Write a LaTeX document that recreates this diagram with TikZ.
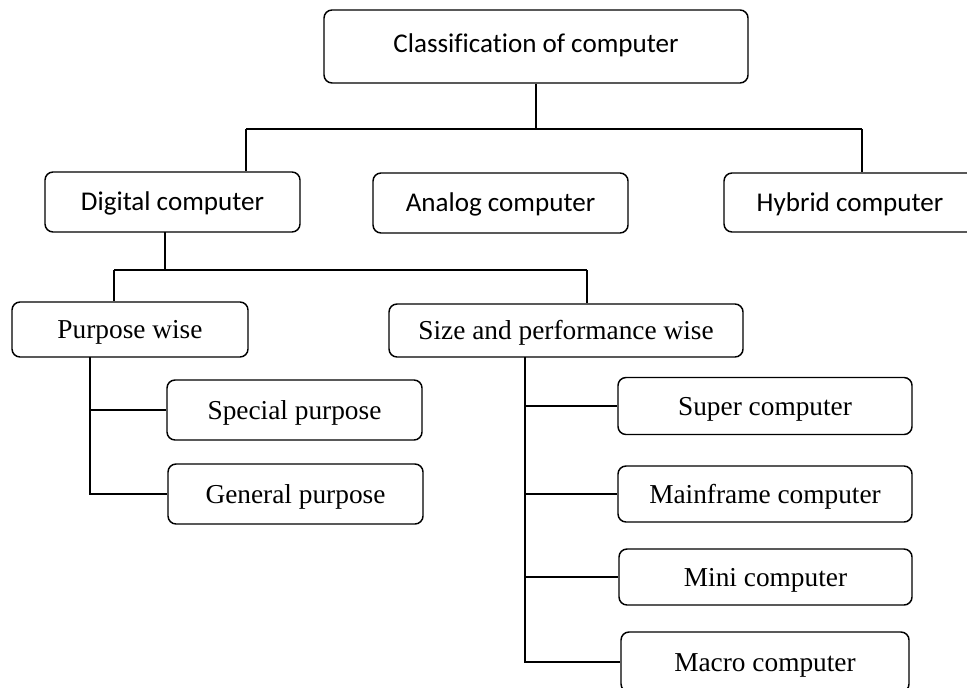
\documentclass[tikz,border=0pt]{standalone}
\usepackage{fontspec}
\newfontfamily\calfont[Ligatures=NoCommon]{Carlito}
\newfontfamily\timesfont{Liberation Serif}
\begin{document}
\begin{tikzpicture}[x=0.75pt,y=-0.75pt,
  box/.style={draw=black,line width=1.1pt,rounded corners=6pt,inner sep=0pt,anchor=center},
  sans/.style={box,font=\calfont\fontsize{20.3}{24}\selectfont,text height=13.5pt,text depth=0.5pt},
  serif/.style={box,font=\timesfont\fontsize{20.5}{24}\selectfont,text height=14pt,text depth=0pt},
  conn/.style={draw=black,line width=1.1pt}]
\useasboundingbox (0,0) rectangle (967,688);
% top level
\node[sans,minimum width=424pt*0.75,minimum height=73pt*0.75,text height=14pt,text depth=5pt] (top) at (536,46.5) {Classification of computer};
\node[sans,minimum width=255pt*0.75,minimum height=60pt*0.75] (dig) at (172.5,202) {Digital computer};
\node[sans,minimum width=255pt*0.75,minimum height=60pt*0.75] (ana) at (500.5,203) {Analog computer};
\node[sans,minimum width=252pt*0.75,minimum height=59pt*0.75] (hyb) at (850,202.5) {Hybrid computer};
% second level
\node[serif,minimum width=236pt*0.75,minimum height=55pt*0.75] (pur) at (130,329.5) {Purpose wise};
\node[serif,minimum width=354pt*0.75,minimum height=53pt*0.75] (siz) at (566,330.5) {Size and performance wise};
% purpose children
\node[serif,minimum width=255pt*0.75,minimum height=60pt*0.75] (spe) at (294.5,410) {Special purpose};
\node[serif,minimum width=255pt*0.75,minimum height=60pt*0.75] (gen) at (295.5,494) {General purpose};
% size children
\node[serif,minimum width=294pt*0.75,minimum height=57pt*0.75] (sup) at (765,406) {Super computer};
\node[serif,minimum width=294pt*0.75,minimum height=56pt*0.75] (mai) at (765,494) {Mainframe computer};
\node[serif,minimum width=293pt*0.75,minimum height=56pt*0.75] (min) at (765.5,577) {Mini computer};
\node[serif,minimum width=288pt*0.75,minimum height=60pt*0.75] (mac) at (765,662) {Macro computer};
% bus 1
\coordinate (b1l) at (246,129);
\coordinate (b1r) at (862,129);
\draw[conn] (top.south) -- (top.south |- b1l);
\draw[conn] (b1l) -- (b1r);
\draw[conn] (b1l) -- (b1l |- dig.north);
\draw[conn] (b1r) -- (b1r |- hyb.north);
% bus 2
\coordinate (d2) at (165,232);
\coordinate (b2l) at (114,270);
\coordinate (b2r) at (587,270);
\draw[conn] (d2) -- (d2 |- b2l);
\draw[conn] (b2l) -- (b2r);
\draw[conn] (b2l) -- (b2l |- pur.north);
\draw[conn] (b2r) -- (b2r |- siz.north);
% purpose tree
\coordinate (p0) at (90,357);
\draw[conn] (p0) -- (p0 |- gen.west) -- (gen.west);
\draw[conn] (p0 |- spe.west) -- (spe.west);
% size tree
\coordinate (s0) at (525,357);
\draw[conn] (s0) -- (s0 |- mac.west) -- (mac.west);
\draw[conn] (s0 |- sup.west) -- (sup.west);
\draw[conn] (s0 |- mai.west) -- (mai.west);
\draw[conn] (s0 |- min.west) -- (min.west);
\end{tikzpicture}
\end{document}
